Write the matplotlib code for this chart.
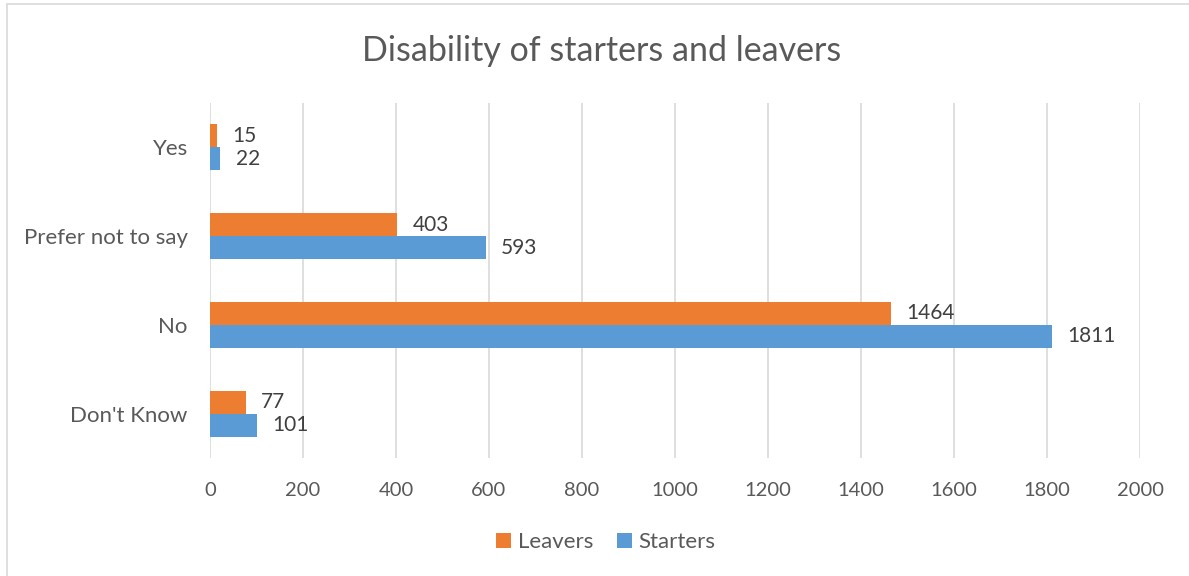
import matplotlib
matplotlib.use("Agg")
import matplotlib.pyplot as plt
from matplotlib.patches import Rectangle
import numpy as np

categories = ["Don't Know", "No", "Prefer not to say", "Yes"]
leavers = [77, 1464, 403, 15]
starters = [101, 1811, 593, 22]
xticks = [0, 200, 400, 600, 800, 1000, 1200, 1400, 1600, 1800, 2000]

plt.rcParams['font.family'] = ['Lato', 'DejaVu Sans']
TXT = '#595959'
ORANGE = '#ED7D31'
BLUE = '#5B9BD5'

W, H = 1189, 576
fig = plt.figure(figsize=(W/100, H/100), dpi=100)
# outer chart border
fig.patches.append(Rectangle((7/W, -0.1), 1.2, 1 - 4/H + 0.1, transform=fig.transFigure,
                             fill=False, edgecolor='#D9D9D9', linewidth=1.2))

left, right, top, bottom = 210, 1140, 103, 458
ax = fig.add_axes([left/W, 1 - bottom/H, (right-left)/W, (bottom-top)/H])

y = np.arange(len(categories))
bh = 0.26
ax.barh(y + bh/2, leavers, height=bh, color=ORANGE, label='Leavers', zorder=3)
ax.barh(y - bh/2, starters, height=bh, color=BLUE, label='Starters', zorder=3)

for yi, v in zip(y, leavers):
    ax.annotate(str(v), (v, yi + bh/2), xytext=(11, 0), textcoords='offset points',
                va='center', ha='left', fontsize=15, color='#404040')
for yi, v in zip(y, starters):
    ax.annotate(str(v), (v, yi - bh/2), xytext=(11, 0), textcoords='offset points',
                va='center', ha='left', fontsize=15, color='#404040')

ax.set_xlim(0, 2000)
ax.set_ylim(-0.5, len(categories) - 0.5)
ax.set_xticks(xticks)
ax.set_xticklabels([str(t) for t in xticks])
ax.set_yticks(y)
ax.set_yticklabels(categories)
ax.tick_params(axis='both', length=0, labelcolor=TXT)
ax.tick_params(axis='x', pad=17, labelsize=14.5)
ax.tick_params(axis='y', pad=16, labelsize=16)
ax.grid(axis='x', color='#D9D9D9', linewidth=1.2, zorder=0)
for s in ax.spines.values():
    s.set_visible(False)

fig.text(602/W, 1 - 51/H, 'Disability of starters and leavers', ha='center', va='center',
         fontsize=24.5, color=TXT)

handles, labels = ax.get_legend_handles_labels()
fig.legend(handles, labels, loc='center', bbox_to_anchor=(606/W, 1 - 542/H), ncol=2,
           frameon=False, fontsize=16, labelcolor=TXT, handlelength=0.65, handleheight=0.65,
           handletextpad=0.3, columnspacing=1.1)

fig.savefig('out.png', dpi=100)
